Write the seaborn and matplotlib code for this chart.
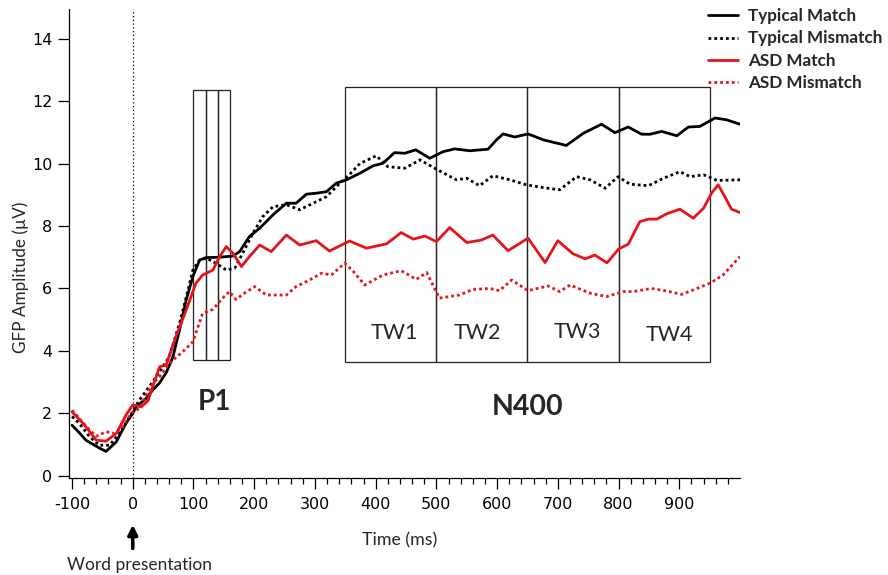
import pandas as pd
import matplotlib
matplotlib.use("Agg")
import matplotlib.pyplot as plt
from matplotlib.patches import Rectangle
import seaborn as sns

# -----------------------------
# Data
# -----------------------------
typ_match_t = [-100, -88, -77, -55, -44, -27, -11, 0, 6, 22, 33, 44, 55, 66, 77, 88, 99,
               110, 121, 143, 165, 176, 192, 209, 231, 253, 269, 286, 302, 319, 335, 352,
               374, 396, 412, 431, 448, 466, 489, 511, 530, 555, 585, 599, 610, 629, 651,
               676, 714, 742, 772, 794, 816, 838, 852, 871, 896, 915, 934, 959, 978, 1000]
typ_match_v = [1.62, 1.38, 1.14, 0.89, 0.78, 1.09, 1.69, 2.0, 2.21, 2.48, 2.75, 2.97, 3.3,
               3.8, 4.67, 5.63, 6.38, 6.91, 6.99, 7.0, 7.04, 7.18, 7.66, 7.93, 8.36, 8.73,
               8.73, 9.02, 9.05, 9.1, 9.37, 9.48, 9.69, 9.93, 10.01, 10.35, 10.33, 10.44,
               10.17, 10.38, 10.47, 10.41, 10.46, 10.76, 10.95, 10.85, 10.95, 10.76, 10.58,
               10.97, 11.26, 10.99, 11.17, 10.94, 10.94, 11.03, 10.89, 11.17, 11.19, 11.46,
               11.4, 11.26]

typ_mis_t = [-100, -88, -71, -55, -38, -22, -5, 11, 33, 60, 77, 91, 99, 110, 121, 137, 154,
             168, 181, 198, 214, 231, 253, 275, 297, 319, 341, 357, 374, 401, 420, 448, 473,
             500, 533, 550, 571, 593, 621, 648, 676, 703, 731, 753, 778, 799, 819, 849, 874,
             901, 918, 940, 962, 1000]
typ_mis_v = [1.9, 1.68, 1.25, 0.98, 0.98, 1.36, 1.89, 2.43, 3.01, 3.81, 4.88, 5.95, 6.59,
             6.91, 6.97, 6.81, 6.59, 6.65, 7.13, 7.77, 8.3, 8.62, 8.68, 8.52, 8.73, 8.94,
             9.37, 9.65, 10.0, 10.25, 9.9, 9.85, 10.12, 9.82, 9.48, 9.53, 9.29, 9.61, 9.48,
             9.32, 9.23, 9.16, 9.58, 9.48, 9.21, 9.58, 9.34, 9.29, 9.53, 9.74, 9.58, 9.64,
             9.46, 9.48]

asd_match_t = [-100, -82, -60, -44, -27, -11, 0, 14, 25, 44, 55, 71, 88, 104, 115, 132, 143,
               154, 165, 179, 192, 209, 228, 253, 275, 302, 324, 357, 385, 418, 442, 462, 481,
               500, 522, 550, 574, 593, 618, 651, 679, 700, 725, 745, 761, 781, 800, 816, 835,
               849, 863, 879, 901, 923, 940, 953, 964, 975, 986, 1000]
asd_match_v = [2.05, 1.68, 1.14, 1.11, 1.36, 1.95, 2.27, 2.21, 2.4, 3.49, 3.55, 4.46, 5.31,
               6.17, 6.43, 6.59, 7.02, 7.34, 7.13, 6.7, 7.02, 7.39, 7.18, 7.71, 7.39, 7.53,
               7.2, 7.52, 7.29, 7.43, 7.79, 7.58, 7.68, 7.5, 7.95, 7.47, 7.55, 7.71, 7.21,
               7.61, 6.83, 7.53, 7.11, 6.95, 7.07, 6.82, 7.26, 7.42, 8.14, 8.22, 8.22, 8.39,
               8.54, 8.25, 8.57, 9.05, 9.32, 8.94, 8.54, 8.43]

asd_mis_t = [-100, -88, -71, -60, -44, -30, -16, -3, 11, 25, 35, 44, 60, 82, 99, 115, 132,
             148, 159, 170, 184, 201, 220, 253, 269, 291, 311, 327, 349, 363, 382, 412, 442,
             467, 484, 505, 538, 560, 588, 604, 624, 651, 684, 703, 720, 753, 780, 808, 824,
             854, 879, 904, 929, 951, 972, 1000]
asd_mis_v = [2.1, 1.84, 1.46, 1.27, 1.41, 1.36, 1.57, 2.0, 2.16, 2.7, 3.0, 3.17, 3.6, 3.97,
             4.29, 5.2, 5.33, 5.69, 5.9, 5.65, 5.85, 6.06, 5.79, 5.79, 6.06, 6.27, 6.49, 6.43,
             6.81, 6.55, 6.11, 6.43, 6.57, 6.29, 6.51, 5.69, 5.79, 5.97, 6.0, 5.93, 6.27,
             5.93, 6.08, 5.9, 6.11, 5.85, 5.74, 5.9, 5.9, 6.0, 5.92, 5.81, 6.0, 6.17, 6.43,
             7.02]

series_names = ['Typical Match', 'Typical Mismatch', 'ASD Match', 'ASD Mismatch']

# analysis windows (ms)
p1_edges = [100, 120, 140, 160]
n400_edges = [350, 500, 650, 800, 950]
tw_labels = ['TW1', 'TW2', 'TW3', 'TW4']

# -----------------------------
# Style
# -----------------------------
sns.set_style('ticks')
plt.rcParams['font.family'] = ['DejaVu Sans']
plt.rcParams['axes.unicode_minus'] = False

RED = '#e5141b'
DOT = (0, (1, 1.1))
styles = {
    'Typical Match': dict(color='black', linestyle='-'),
    'Typical Mismatch': dict(color='black', linestyle=DOT),
    'ASD Match': dict(color=RED, linestyle='-'),
    'ASD Mismatch': dict(color=RED, linestyle=DOT),
}
series = {
    'Typical Match': (typ_match_t, typ_match_v),
    'Typical Mismatch': (typ_mis_t, typ_mis_v),
    'ASD Match': (asd_match_t, asd_match_v),
    'ASD Mismatch': (asd_mis_t, asd_mis_v),
}

fig = plt.figure(figsize=(8.88, 5.75), dpi=100)
ax = fig.add_axes([69 / 888, 97 / 575, 671 / 888, 469 / 575])

# -----------------------------
# Curves
# -----------------------------
for name in series_names:
    t, v = series[name]
    df = pd.DataFrame({'Time': t, 'GFP': v})
    sns.lineplot(data=df, x='Time', y='GFP', ax=ax, lw=2, label=name,
                 **styles[name])

# word onset line
ax.axvline(0, color='black', lw=0.9, linestyle=(0, (1, 2)), zorder=1)

# -----------------------------
# Analysis windows
# -----------------------------
box_kw = dict(fill=False, edgecolor='#222222', lw=0.9, zorder=1)
for a, b in zip(p1_edges[:-1], p1_edges[1:]):
    ax.add_patch(Rectangle((a, 3.7), b - a, 12.35 - 3.7, **box_kw))
for a, b in zip(n400_edges[:-1], n400_edges[1:]):
    ax.add_patch(Rectangle((a, 3.65), b - a, 12.45 - 3.65, **box_kw))

lab_font = ['Lato', 'DejaVu Sans']
tw_pos = [(431, 4.57), (568, 4.57), (733, 4.6), (883, 4.5)]
for lab, (x, y) in zip(tw_labels, tw_pos):
    ax.text(x, y, lab, ha='center', va='center', fontsize=15.5, family=lab_font)
ax.text(135, 2.37, 'P1', ha='center', va='center', fontsize=20,
        fontweight='bold', family=lab_font)
ax.text(650, 2.2, 'N400', ha='center', va='center', fontsize=20.5,
        fontweight='bold', family=lab_font)

# -----------------------------
# Axes
# -----------------------------
ax.set_xlim(-105, 1000)
ax.set_ylim(-0.07, 14.95)
ax.set_xticks(range(-100, 1000, 100))
ax.set_xticks(range(-100, 1000, 20), minor=True)
ax.set_yticks(range(0, 15, 2))
ax.tick_params(axis='both', which='major', length=8, width=0.9, labelsize=11.5,
               color='black', labelcolor='black')
ax.tick_params(axis='x', which='major', pad=6)
ax.tick_params(axis='y', which='major', pad=4)
ax.tick_params(axis='x', which='minor', length=4, width=0.9, color='black')
sns.despine(ax=ax)
for s in ['left', 'bottom']:
    ax.spines[s].set_linewidth(0.9)
    ax.spines[s].set_color('black')
ax.set_xlabel('')
ax.set_ylabel('')

fig.text(21 / 888, 1 - 277.5 / 575, 'GFP Amplitude (µV)', rotation=90,
         ha='center', va='center', fontsize=12.3, family=lab_font)
fig.text(400 / 888, 1 - 540 / 575, 'Time (ms)', ha='center', va='center',
         fontsize=12.8, family=lab_font)
fig.text(139.5 / 888, 1 - 565 / 575, 'Word presentation', ha='center',
         va='center', fontsize=12.5, family=lab_font)

# onset arrow under the axis
ax.annotate('', xy=(0, -0.100), xytext=(0, -0.150),
            xycoords=ax.get_xaxis_transform(), textcoords=ax.get_xaxis_transform(),
            annotation_clip=False,
            arrowprops=dict(arrowstyle='-|>,head_length=0.55,head_width=0.28',
                            lw=2.6, color='black', shrinkA=0, shrinkB=0))

# legend outside, top right
leg = ax.legend(loc='upper left', bbox_to_anchor=(708 / 888, 1 - 8 / 575),
                bbox_transform=fig.transFigure, frameon=False, borderpad=0,
                borderaxespad=0, handlelength=1.75, handletextpad=0.62,
                labelspacing=0.38, prop={'family': lab_font, 'weight': 'bold',
                                         'size': 12.3})

fig.savefig('out.png', dpi=100)
